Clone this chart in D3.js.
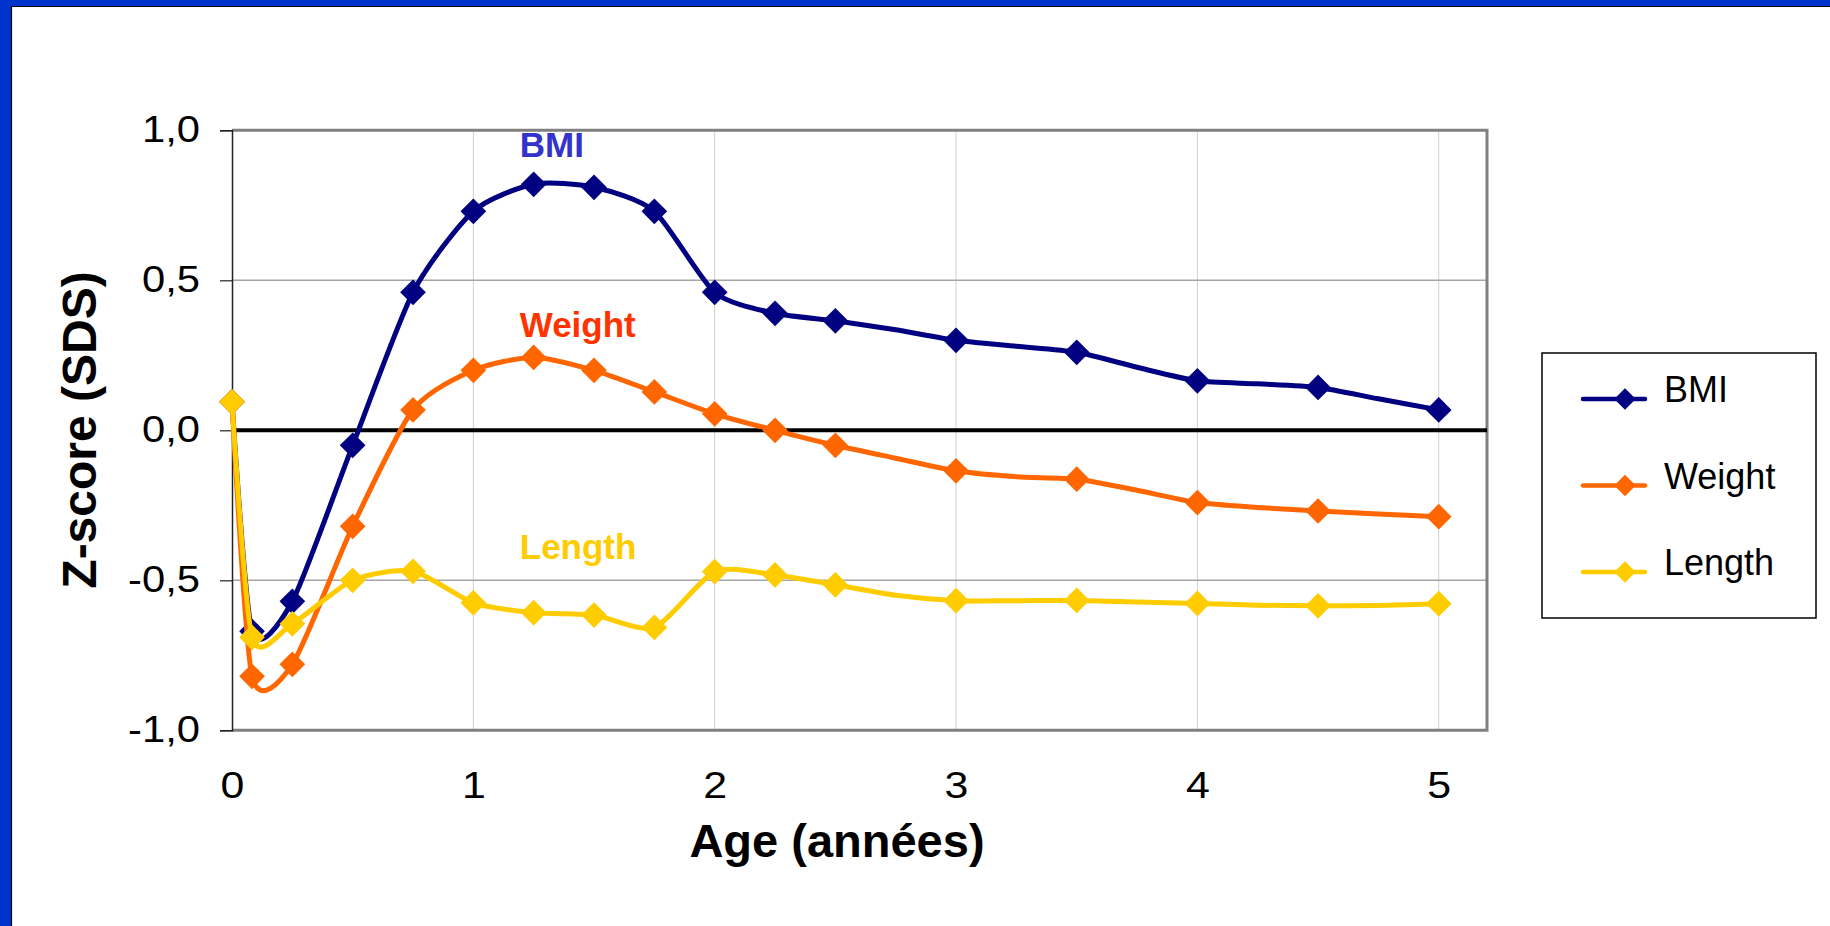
<!DOCTYPE html>
<html>
<head>
<meta charset="utf-8">
<script src="https://cdn.jsdelivr.net/npm/d3@7"></script>
<style>
  body { margin: 0; background: #fff; }
  svg { display: block; font-family: "Liberation Sans", Arial, sans-serif; }
</style>
</head>
<body>
<svg id="chart"></svg>
<script>
// z-scores by age (years), quarterly after the first month
const ages = [0, 0.083, 0.25, 0.5, 0.75, 1, 1.25, 1.5, 1.75, 2, 2.25, 2.5, 2.75, 3, 3.25, 3.5, 3.75, 4, 4.25, 4.5, 4.75, 5];
const hasMarker = [1, 1, 1, 1, 1, 1, 1, 1, 1, 1, 1, 1, 0, 1, 0, 1, 0, 1, 0, 1, 0, 1];
const bmi = [0.095, -0.67, -0.57, -0.05, 0.46, 0.73, 0.82, 0.81, 0.73, 0.46, 0.39, 0.365, 0.335, 0.30, 0.28, 0.26, 0.21, 0.165, 0.155, 0.143, 0.105, 0.068];
const weight = [0.095, -0.82, -0.78, -0.32, 0.068, 0.20, 0.243, 0.20, 0.128, 0.055, 0.0, -0.05, -0.093, -0.135, -0.155, -0.163, -0.20, -0.241, -0.257, -0.269, -0.279, -0.288];
const length = [0.095, -0.69, -0.645, -0.50, -0.47, -0.575, -0.608, -0.616, -0.657, -0.471, -0.482, -0.515, -0.55, -0.568, -0.568, -0.567, -0.572, -0.577, -0.583, -0.585, -0.584, -0.578];

const seriesNames = ['BMI', 'Weight', 'Length'];
const seriesValues = [bmi, weight, length];
const seriesColors = ['#000080', '#FF6600', '#FFCC00'];
const labelColors = ['#3333CC', '#FF3300', '#FFCC00'];
const labelAnchors = [[1.3, 0.91], [1.3, 0.31], [1.3, -0.43]];

const xTicks = [0, 1, 2, 3, 4, 5];
const yTicks = [-1, -0.5, 0, 0.5, 1];

const width = 1830;
const height = 926;
const plot = { left: 232, right: 1487, top: 130.3, bottom: 730.3 };
const stretch = 1.16; // tick labels are drawn a little wide

const svg = d3.select('#chart').attr('width', width).attr('height', height);

// slide frame
svg.append('rect').attr('x', 0).attr('y', 0).attr('width', width).attr('height', 6).attr('fill', '#0033CC');
svg.append('rect').attr('x', 0).attr('y', 0).attr('width', 11).attr('height', height).attr('fill', '#0033CC');
svg.append('line').attr('x1', 11).attr('x2', width).attr('y1', 6.5).attr('y2', 6.5).attr('stroke', '#000').attr('stroke-width', 1.2);
svg.append('line').attr('x1', 11.5).attr('x2', 11.5).attr('y1', 6).attr('y2', height).attr('stroke', '#000').attr('stroke-width', 1.2);

const x = d3.scaleLinear().domain([0, 5.2]).range([plot.left, plot.right]);
const y = d3.scaleLinear().domain([-1, 1]).range([plot.bottom, plot.top]);

const locale = d3.formatLocale({ decimal: ',', thousands: '.', grouping: [3], currency: ['', ' €'], minus: '-' });
const fmt = locale.format('.1f');

// grid
svg.append('g')
    .selectAll('line')
    .data(xTicks.filter((d) => d > 0))
    .enter()
    .append('line')
    .attr('x1', (d) => x(d))
    .attr('x2', (d) => x(d))
    .attr('y1', plot.top)
    .attr('y2', plot.bottom)
    .style('stroke', '#D0D0D0')
    .style('stroke-width', 1);

svg.append('g')
    .selectAll('line')
    .data([-0.5, 0.5])
    .enter()
    .append('line')
    .attr('x1', plot.left)
    .attr('x2', plot.right)
    .attr('y1', (d) => y(d))
    .attr('y2', (d) => y(d))
    .style('stroke', '#A6A6A6')
    .style('stroke-width', 1.5);

// plot border (top, right, bottom)
svg.append('path')
    .attr('d', `M${plot.left},${plot.top}H${plot.right}V${plot.bottom}H${plot.left}`)
    .attr('fill', 'none')
    .attr('stroke', '#808080')
    .attr('stroke-width', 3);

// zero line
svg.append('line')
    .attr('x1', plot.left)
    .attr('x2', plot.right)
    .attr('y1', y(0))
    .attr('y2', y(0))
    .style('stroke', '#000')
    .style('stroke-width', 4);

// axes
const yAxis = svg.append('g')
    .attr('transform', `translate(${plot.left},0)`)
    .call(d3.axisLeft(y).tickValues(yTicks).tickFormat(fmt).tickSize(12).tickPadding(20));
yAxis.select('.domain').attr('stroke', '#222').attr('stroke-width', 1.5);
yAxis.selectAll('.tick line').attr('stroke', '#222').attr('stroke-width', 1.2);
yAxis.selectAll('text')
    .attr('x', -32 / stretch)
    .attr('transform', `scale(${stretch},1)`)
    .attr('font-size', 36)
    .attr('font-family', '"Liberation Sans", Arial, sans-serif')
    .attr('fill', '#000');

const xAxis = svg.append('g')
    .attr('transform', `translate(0,${plot.bottom})`)
    .call(d3.axisBottom(x).tickValues(xTicks).tickFormat(d3.format('d')).tickSize(0).tickPadding(41));
xAxis.select('.domain').remove();
xAxis.selectAll('text')
    .attr('transform', `scale(${stretch},1)`)
    .attr('font-size', 37)
    .attr('font-family', '"Liberation Sans", Arial, sans-serif')
    .attr('fill', '#000');

// axis titles
svg.append('text')
    .attr('x', 837)
    .attr('y', 857)
    .attr('text-anchor', 'middle')
    .attr('font-size', 47)
    .attr('font-weight', 'bold')
    .text('Age (années)');

svg.append('text')
    .attr('transform', 'translate(96,430) rotate(-90)')
    .attr('text-anchor', 'middle')
    .attr('font-size', 48)
    .attr('font-weight', 'bold')
    .text('Z-score (SDS)');

// series
const line = d3.line()
    .x((d) => x(d.age))
    .y((d) => y(d.value))
    .curve(d3.curveCardinal.tension(0.3));

const diamond = d3.symbol().type(d3.symbolSquare).size(330);

seriesNames.forEach((name, i) => {
    const points = ages.map((a, j) => ({ age: a, value: seriesValues[i][j], marker: hasMarker[j] }));
    svg.append('path')
        .datum(points)
        .attr('d', line)
        .attr('fill', 'none')
        .attr('stroke', seriesColors[i])
        .attr('stroke-width', 5)
        .attr('stroke-linejoin', 'round');
    svg.append('g')
        .selectAll('path')
        .data(points.filter((d) => d.marker))
        .enter()
        .append('path')
        .attr('d', diamond)
        .attr('transform', (d) => `translate(${x(d.age)},${y(d.value)}) rotate(45)`)
        .attr('fill', seriesColors[i]);
});

// in-plot labels
svg.append('g')
    .selectAll('text')
    .data(seriesNames)
    .enter()
    .append('text')
    .attr('x', (d, i) => x(labelAnchors[i][0]) - 26)
    .attr('y', (d, i) => y(labelAnchors[i][1]))
    .attr('font-size', 35)
    .attr('font-weight', 'bold')
    .attr('fill', (d, i) => labelColors[i])
    .text((d) => d);

// legend
const legend = svg.append('g').attr('transform', 'translate(1542,353)');
legend.append('rect')
    .attr('width', 274)
    .attr('height', 265)
    .attr('fill', '#fff')
    .attr('stroke', '#000')
    .attr('stroke-width', 1.5);

const rows = legend.selectAll('g.row')
    .data(seriesNames)
    .enter()
    .append('g')
    .attr('class', 'row')
    .attr('transform', (d, i) => `translate(0,${46 + i * 86.5})`);

rows.append('line')
    .attr('x1', 41)
    .attr('x2', 103)
    .style('stroke', (d, i) => seriesColors[i])
    .style('stroke-width', 4.5)
    .style('stroke-linecap', 'round');

rows.append('path')
    .attr('d', d3.symbol().type(d3.symbolSquare).size(230))
    .attr('transform', 'translate(83,0) rotate(45)')
    .attr('fill', (d, i) => seriesColors[i]);

rows.append('text')
    .attr('x', 122)
    .attr('y', 3)
    .attr('font-size', 36)
    .text((d) => d);
</script>
</body>
</html>
